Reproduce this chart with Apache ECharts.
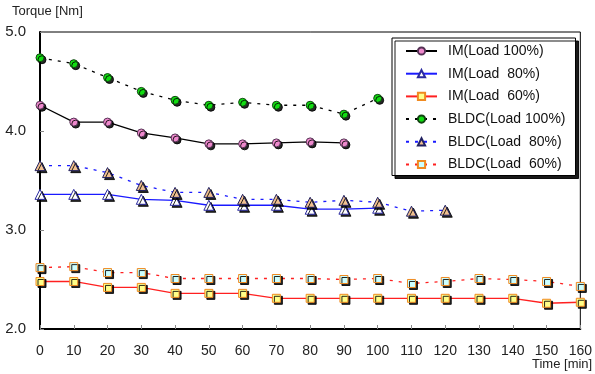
<!DOCTYPE html>
<html>
<head>
<meta charset="utf-8">
<script src="https://cdn.jsdelivr.net/npm/echarts@6/dist/echarts.min.js"></script>
<style>html,body{margin:0;padding:0;background:#fff}#c{width:595px;height:374px}</style>
</head>
<body>
<div id="c"></div>
<script>
var timeMin = [0,10,20,30,40,50,60,70,80,90,100,110,120,130,140,150,160];
var seriesNames = ['IM(Load 100%)','IM(Load  80%)','IM(Load  60%)','BLDC(Load 100%)','BLDC(Load  80%)','BLDC(Load  60%)'];
var im100 = [4.26,4.09,4.09,3.98,3.93,3.87,3.87,3.88,3.89,3.88];
var im80 = [3.36,3.36,3.36,3.31,3.30,3.25,3.25,3.25,3.21,3.21,3.22];
var im60 = [2.48,2.48,2.42,2.42,2.36,2.36,2.36,2.31,2.31,2.31,2.31,2.31,2.31,2.31,2.31,2.26,2.27];
var bldc100 = [4.74,4.68,4.54,4.40,4.31,4.26,4.29,4.26,4.26,4.17,4.33];
var bldc80 = [3.65,3.65,3.58,3.45,3.38,3.38,3.31,3.31,3.28,3.30,3.28,3.19,3.20];
var bldc60 = [2.62,2.63,2.57,2.57,2.51,2.51,2.51,2.51,2.51,2.50,2.51,2.46,2.48,2.51,2.50,2.48,2.43];
var yTicks = [2.0,3.0,4.0,5.0];

function pairs(vals){ return vals.map(function(v,i){ return [timeMin[i], v]; }); }

var FONT = '"Liberation Sans", Arial, sans-serif';
var shadow = {shadowColor:'rgba(0,0,0,0.85)', shadowOffsetX:2, shadowOffsetY:2, shadowBlur:0};

function mk(name, data, lineColor, dash, symbol, fill, border){
  return {
    name:name, type:'line', data:pairs(data), symbol:symbol, symbolSize: symbol==='triangle'?10:8,
    showSymbol:true,
    lineStyle:{color:lineColor, width:1.3, type:dash},
    itemStyle:Object.assign({color:fill, borderColor:border, borderWidth:1}, shadow),
    emphasis:{disabled:true},
    animation:false
  };
}

var chart = echarts.init(document.getElementById('c'), null, {renderer:'canvas'});
chart.setOption({
  backgroundColor:'#fff',
  animation:false,
  grid:{left:40, right:12, top:32, bottom:45, show:true, borderColor:'#000', borderWidth:1, backgroundColor:'transparent'},
  xAxis:{
    type:'value', min:0, max:160, interval:10,
    axisLine:{show:true, lineStyle:{color:'#000', width:2}},
    axisTick:{show:true, inside:true, length:4, lineStyle:{color:'#888'}},
    axisLabel:{fontFamily:FONT, fontSize:14, color:'#222', margin:15},
    splitLine:{show:false}
  },
  yAxis:{
    type:'value', min:2, max:5, interval:1,
    axisLine:{show:true, lineStyle:{color:'#000', width:2}},
    axisTick:{show:true, inside:true, length:4, lineStyle:{color:'#888'}},
    axisLabel:{fontFamily:FONT, fontSize:15, color:'#222', margin:14, formatter:function(v){return v.toFixed(1);}},
    splitLine:{show:false}
  },
  legend:{
    orient:'vertical', left:392, top:38, width:160,
    padding:[6,10,4,13],
    itemWidth:31, itemHeight:9, itemGap:8.7,
    backgroundColor:'#fff', borderColor:'#000', borderWidth:1,
    shadowColor:'rgba(0,0,0,0.9)', shadowOffsetX:3, shadowOffsetY:3, shadowBlur:0,
    textStyle:{fontFamily:FONT, fontSize:14, lineHeight:14, color:'#111', padding:[0,0,0,6]},
    data:seriesNames
  },
  graphic:[
    {type:'text', left:12, top:5, style:{text:'Torque [Nm]', fontFamily:FONT, fontSize:13, fill:'#222'}},
    {type:'text', left:532, top:358, style:{text:'Time [min]', fontFamily:FONT, fontSize:13, fill:'#222'}}
  ],
  series:[
    mk(seriesNames[0], im100, '#000', 'solid', 'circle', '#ee88cc', '#553355'),
    mk(seriesNames[1], im80, '#1a1aff', 'solid', 'triangle', '#ffffff', '#2a2aa0'),
    mk(seriesNames[2], im60, '#ff2020', 'solid', 'rect', '#ffff88', '#f08a20'),
    mk(seriesNames[3], bldc100, '#000', [3,6], 'circle', '#11dd11', '#114411'),
    mk(seriesNames[4], bldc80, '#1a1aff', [3,6], 'triangle', '#f0c090', '#202060'),
    mk(seriesNames[5], bldc60, '#ff2020', [3,6], 'rect', '#ccffff', '#f08a20')
  ]
});
</script>
</body>
</html>
